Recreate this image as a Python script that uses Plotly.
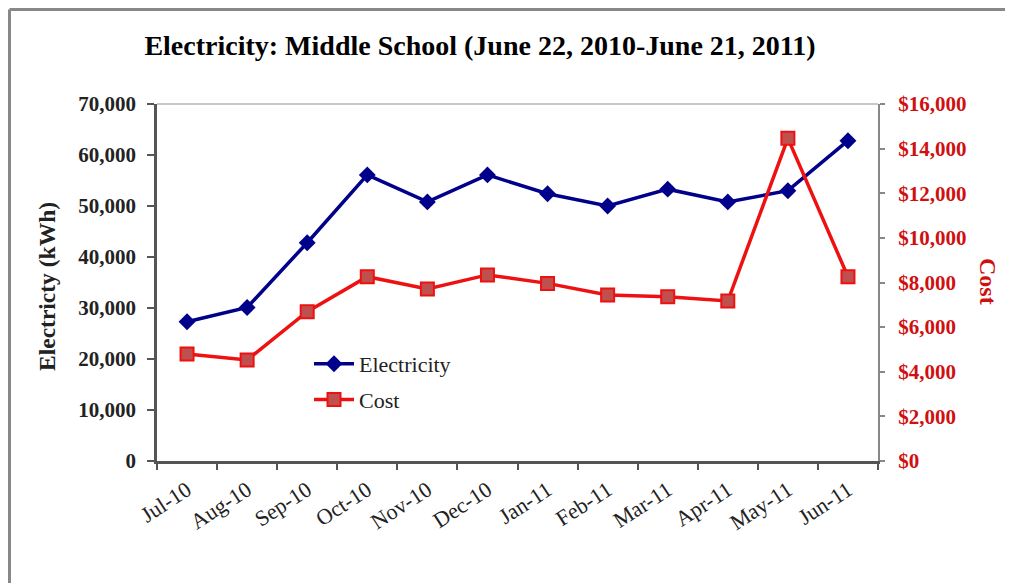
import plotly.graph_objects as go

months = ["Jul-10", "Aug-10", "Sep-10", "Oct-10", "Nov-10", "Dec-10",
          "Jan-11", "Feb-11", "Mar-11", "Apr-11", "May-11", "Jun-11"]
electricity_kwh = [27300, 30100, 42800, 56100, 50800, 56100,
                   52400, 50000, 53300, 50800, 53000, 62800]
cost_usd = [4800, 4530, 6690, 8260, 7710, 8340,
            7960, 7440, 7360, 7170, 14460, 8260]

left_ticks = [0, 10000, 20000, 30000, 40000, 50000, 60000, 70000]
left_labels = ["0", "10,000", "20,000", "30,000", "40,000", "50,000", "60,000", "70,000"]
right_ticks = [0, 2000, 4000, 6000, 8000, 10000, 12000, 14000, 16000]
right_labels = ["$0", "$2,000", "$4,000", "$6,000", "$8,000", "$10,000",
                "$12,000", "$14,000", "$16,000"]

SERIF = "Liberation Serif, Times New Roman, serif"
RED = "#d01010"

# page body has an 8px margin; figure is sized so the plot lands where the reference has it
W, H = 1005, 575
OFF = 8
L, R, T, B = 157 - OFF, 1013 - 878, 104 - OFF, 583 - 461
PW = W - L - R
PH = H - T - B


def px_x(px):
    return (px - OFF - L) / PW


def px_y(py):
    return (H - B - (py - OFF)) / PH


fig = go.Figure()
fig.add_trace(go.Scatter(
    x=months, y=electricity_kwh, name="Electricity", mode="lines+markers",
    line=dict(color="#00008b", width=3.5),
    marker=dict(symbol="diamond", size=13, color="#00008b"),
    legendgroup="e",
))
fig.add_trace(go.Scatter(
    x=months, y=cost_usd, name="Cost", mode="lines+markers", yaxis="y2",
    line=dict(color="#ee1111", width=3.5),
    marker=dict(symbol="square", size=13, color="#c0504d",
                line=dict(color="#ee1111", width=2)),
    legendgroup="c",
))

fig.update_layout(
    width=W, height=H,
    margin=dict(l=L, r=R, t=T, b=B, pad=0),
    paper_bgcolor="white", plot_bgcolor="white",
    title=dict(text="<b>Electricity: Middle School (June 22, 2010-June 21, 2011)</b>",
               x=(480 - OFF) / W, xanchor="center", y=1 - (45 - OFF) / H, yanchor="middle",
               font=dict(family=SERIF, size=28, color="black")),
    showlegend=True,
    legend=dict(x=px_x(309), y=px_y(343), xanchor="left", yanchor="top",
                bgcolor="rgba(0,0,0,0)", font=dict(family=SERIF, size=22, color="#222"),
                tracegroupgap=4, itemwidth=40),
    xaxis=dict(type="category", range=[-0.5, 11.5], tickson="boundaries",
               showline=True, linecolor="#555", linewidth=2.5,
               ticks="outside", ticklen=6, tickwidth=2, tickcolor="#555",
               tickangle=-33, ticklabelstandoff=5, showgrid=False, zeroline=False,
               tickfont=dict(family=SERIF, size=22, color="#222")),
    yaxis=dict(range=[0, 70000], tickvals=left_ticks, ticktext=left_labels,
               showline=True, linecolor="#555", linewidth=2.5,
               ticks="outside", ticklen=7, tickwidth=2, tickcolor="#555",
               ticklabelstandoff=7,
               showgrid=False, zeroline=False,
               tickfont=dict(family=SERIF, size=21, color="#222", weight="bold")),
    yaxis2=dict(range=[0, 16000], tickvals=right_ticks, ticktext=right_labels,
                overlaying="y", side="right",
                showline=True, linecolor="#888", linewidth=2,
                ticks="outside", ticklen=5, tickwidth=1.5, tickcolor="#888",
                ticklabelstandoff=9,
                showgrid=False, zeroline=False,
                tickfont=dict(family=SERIF, size=21, color=RED, weight="bold")),
    shapes=[
        dict(type="line", xref="paper", yref="paper", x0=0, x1=1, y0=1, y1=1,
             line=dict(color="#c8c8c8", width=2)),
        dict(type="line", xref="paper", yref="paper",
             x0=px_x(OFF + 1.5), x1=px_x(OFF + 1.5), y0=px_y(OFF + 1.5), y1=px_y(600),
             line=dict(color="#888", width=3)),
        dict(type="line", xref="paper", yref="paper",
             x0=px_x(OFF + 1.5), x1=px_x(1030), y0=px_y(OFF + 1.5), y1=px_y(OFF + 1.5),
             line=dict(color="#888", width=3)),
    ],
    annotations=[
        dict(text="<b>Electricty (kWh)</b>", xref="paper", yref="paper",
             x=px_x(47), y=px_y(287), textangle=-90, showarrow=False,
             xanchor="center", yanchor="middle",
             font=dict(family=SERIF, size=23.5, color="#222")),
        dict(text="<b>Cost</b>", xref="paper", yref="paper",
             x=px_x(988), y=px_y(281), textangle=90, showarrow=False,
             xanchor="center", yanchor="middle",
             font=dict(family=SERIF, size=24, color=RED)),
    ],
)

fig.write_html("out.html")
